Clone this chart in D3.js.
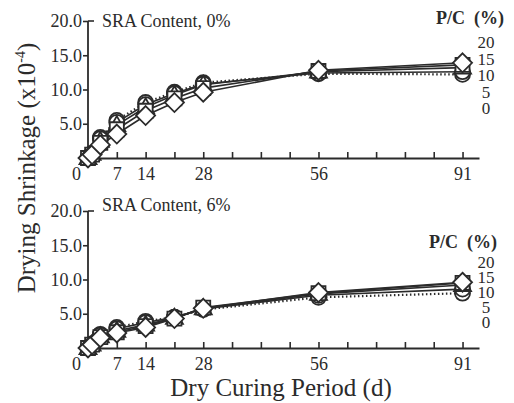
<!DOCTYPE html>
<html>
<head>
<meta charset="utf-8">
<script src="https://cdn.jsdelivr.net/npm/d3@7"></script>
<style>
  body { margin: 0; background: #fff; }
  svg text { font-family: "Liberation Serif", "Times New Roman", serif !important; fill: #2b2b2b; }
</style>
</head>
<body>
<div id="chart"></div>
<script>
// dry curing period (d)
var days = [0, 1, 3, 7, 14, 21, 28, 56, 91];
var dayTicks = [0, 7, 14, 21, 28, 35, 42, 49, 56, 63, 70, 77, 84, 91];
var dayLabels = [0, 7, 14, 28, 56, 91];
var shrinkTicks = [5, 10, 15, 20];
var pcLabels = ["20", "15", "10", "5", "0"];

// SRA 0%, drying shrinkage x10^-4, one list per P/C
var sra0_pc0  = [0, 0.7, 3.0, 5.5, 8.1, 9.6, 11.0, 12.3, 12.2];
var sra0_pc5  = [0, 0.6, 2.8, 5.2, 7.8, 9.4, 10.8, 12.4, 12.6];
var sra0_pc10 = [0, 0.6, 2.5, 4.8, 7.4, 9.2, 10.7, 12.6, 13.2];
var sra0_pc15 = [0, 0.5, 2.2, 4.2, 6.9, 8.7, 10.2, 12.7, 13.6];
var sra0_pc20 = [0, 0.5, 1.9, 3.5, 6.2, 8.1, 9.6, 12.8, 13.9];

// SRA 6%
var sra6_pc0  = [0, 0.6, 2.0, 3.0, 3.9, 4.5, 5.6, 7.4, 8.0];
var sra6_pc5  = [0, 0.6, 1.9, 2.8, 3.7, 4.5, 5.7, 7.7, 8.6];
var sra6_pc10 = [0, 0.5, 1.7, 2.5, 3.4, 4.4, 5.8, 7.9, 9.2];
var sra6_pc15 = [0, 0.5, 1.6, 2.3, 3.2, 4.3, 5.9, 8.0, 9.5];
var sra6_pc20 = [0, 0.5, 1.5, 2.2, 3.0, 4.3, 5.8, 8.1, 9.6];

var ink = "#2b2b2b";
var serif = "Liberation Serif, Times New Roman, serif";
var width = 514, height = 403;

var svg = d3.select("#chart").append("svg")
  .attr("width", width)
  .attr("height", height)
  .attr("font-family", serif);

var x = d3.scaleLinear().domain([0, 95]).range([88, 479]);

// marker shapes
function marker(type) {
  if (type == "circle") return d3.symbol().type(d3.symbolCircle).size(Math.PI * 7.5 * 7.5)();
  if (type == "triangle") return "M0,-9L8.5,6L-8.5,6Z";
  if (type == "square") return "M-7,-7H7V7H-7Z";
  return "M0,-9.5L9.5,0L0,9.5L-9.5,0Z";
}

function drawPanel(panel) {
  var y = d3.scaleLinear().domain([0, 20]).range([panel.y0, panel.y0 - 137]);
  var g = svg.append("g");

  // y axis
  var yAxis = g.append("g")
    .attr("transform", "translate(88,0)")
    .call(d3.axisLeft(y).tickValues(shrinkTicks).tickSizeInner(5).tickSizeOuter(0).tickPadding(1)
      .tickFormat(d3.format(".1f")))
    .attr("font-family", serif);
  yAxis.select(".domain").attr("d", "M0," + y(0) + "V" + y(20));
  yAxis.selectAll("line").attr("stroke", ink).attr("stroke-width", 1.6);
  yAxis.select(".domain").attr("stroke", ink).attr("stroke-width", 1.8);
  yAxis.selectAll("text").attr("font-size", 18).attr("fill", ink);
  // small inward tick at the top
  g.append("line").attr("x1", 88).attr("x2", 94).attr("y1", y(20)).attr("y2", y(20))
    .attr("stroke", ink).attr("stroke-width", 1.6);

  // x axis tick marks (pointing up)
  var xTicks = g.append("g")
    .attr("transform", "translate(0," + y(0) + ")")
    .call(d3.axisBottom(x).tickValues(dayTicks).tickSizeInner(-6).tickSizeOuter(0).tickFormat(""));
  xTicks.select(".domain").attr("stroke", ink).attr("stroke-width", 1.8);
  xTicks.selectAll("line").attr("stroke", ink).attr("stroke-width", 1.6);

  // x tick labels
  var xLab = g.append("g")
    .attr("transform", "translate(0," + y(0) + ")")
    .call(d3.axisBottom(x).tickValues(dayLabels).tickSize(0).tickPadding(9))
    .attr("font-family", serif);
  xLab.select(".domain").remove();
  xLab.selectAll("text").attr("font-size", 18).attr("fill", ink)
    .attr("dx", function(d){ return d == 0 ? -12 : 0; });

  // lines + markers
  var line = d3.line().x(function(d, i){ return x(days[i]); }).y(function(d){ return y(d); });
  panel.series.forEach(function(s) {
    g.append("path")
      .attr("d", line(s.values))
      .attr("fill", "none")
      .attr("stroke", ink)
      .attr("stroke-width", s.dash ? 2.2 : 1.6)
      .attr("stroke-dasharray", s.dash ? "1.5,2.5" : null);
  });
  panel.series.forEach(function(s) {
    g.selectAll(null)
      .data(s.values)
      .enter()
      .append("path")
      .attr("d", marker(s.shape))
      .attr("transform", function(d, i){ return "translate(" + x(days[i]) + "," + y(d) + ")"; })
      .attr("fill", "#fff")
      .attr("stroke", ink)
      .attr("stroke-width", 1.8);
  });

  // panel title
  g.append("text")
    .attr("x", 102)
    .attr("y", panel.titleY)
    .attr("font-size", 18)
    .text(panel.title);

  // P/C legend
  g.append("text")
    .attr("x", panel.pcX)
    .attr("y", panel.pcY)
    .attr("text-anchor", "middle")
    .attr("font-size", 18)
    .attr("font-weight", "bold")
    .attr("xml:space", "preserve")
    .text("P/C  (%)");
  g.selectAll(null)
    .data(pcLabels)
    .enter()
    .append("text")
    .attr("x", 486)
    .attr("y", function(d, i){ return panel.numY + i * panel.numStep; })
    .attr("text-anchor", "middle")
    .attr("font-size", 17)
    .text(function(d){ return d; });
}

drawPanel({
  y0: 158, title: "SRA Content, 0%", titleY: 27,
  pcX: 470, pcY: 24, numY: 48, numStep: 16.5,
  series: [
    {values: sra0_pc0, shape: "circle", dash: true},
    {values: sra0_pc5, shape: "circle"},
    {values: sra0_pc10, shape: "triangle"},
    {values: sra0_pc15, shape: "square"},
    {values: sra0_pc20, shape: "diamond"}
  ]
});

drawPanel({
  y0: 348, title: "SRA Content, 6%", titleY: 211,
  pcX: 463, pcY: 248, numY: 268, numStep: 15,
  series: [
    {values: sra6_pc0, shape: "circle", dash: true},
    {values: sra6_pc5, shape: "circle"},
    {values: sra6_pc10, shape: "triangle"},
    {values: sra6_pc15, shape: "square"},
    {values: sra6_pc20, shape: "diamond"}
  ]
});

// axis titles
svg.append("text")
  .attr("x", 281)
  .attr("y", 396)
  .attr("text-anchor", "middle")
  .attr("font-size", 25)
  .text("Dry Curing Period (d)");

var yt = svg.append("text")
  .attr("transform", "translate(35,168) rotate(-90)")
  .attr("text-anchor", "middle")
  .attr("font-size", 25);
yt.append("tspan").text("Drying Shrinkage (x10");
yt.append("tspan").attr("font-size", 14).attr("dy", -10).text("-4");
yt.append("tspan").attr("dy", 10).text(")");
</script>
</body>
</html>
